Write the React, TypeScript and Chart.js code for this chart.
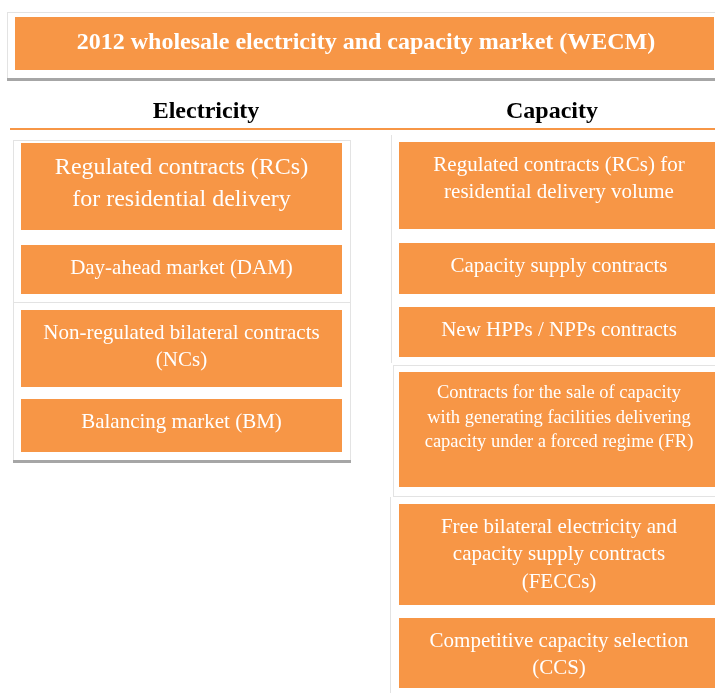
import React, { useEffect, useRef } from "react";
import { Chart, registerables } from "chart.js";

Chart.register(...registerables);

// ---- content ----
const titleText = "2012 wholesale electricity and capacity market (WECM)";
const headers = ["Electricity", "Capacity"];
const electricityItems: string[][] = [
  ["Regulated contracts (RCs)", "for residential delivery"],
  ["Day-ahead market (DAM)"],
  ["Non-regulated bilateral contracts", "(NCs)"],
  ["Balancing market (BM)"],
];
const capacityItems: string[][] = [
  ["Regulated contracts (RCs) for", "residential delivery volume"],
  ["Capacity supply contracts"],
  ["New HPPs / NPPs contracts"],
  [
    "Contracts for the sale of capacity",
    "with generating facilities delivering",
    "capacity under a forced regime (FR)",
  ],
  ["Free bilateral electricity and", "capacity supply contracts", "(FECCs)"],
  ["Competitive capacity selection", "(CCS)"],
];

// ---- layout (diagram units = pixels of the 715x693 page) ----
const W = 715;
const H = 693;
const ORANGE = "#F79646";
const FRAME = "#e3e3e3";
const SHADOW = "#a6a6a6";
const FONT = '"Liberation Serif", "Times New Roman", serif';
const electricitySpans = [
  [143, 230],
  [245, 294],
  [310, 387],
  [399, 452],
];
const electricityFont = [24, 21, 21, 21];
const electricityX = [21, 342];
const capacitySpans = [
  [142, 229],
  [243, 294],
  [307, 357],
  [372, 487],
  [504, 605],
  [618, 688],
];
const capacityFont = [21, 21, 21, 18.5, 21, 21];
const capacityX = [399, 720];

export default function App() {
  const ref = useRef<HTMLCanvasElement | null>(null);

  useEffect(() => {
    document.body.style.margin = "0";
    const canvas = ref.current;
    if (!canvas) return;

    const diagram = {
      id: "diagram",
      beforeDraw(chart: any) {
        const ctx = chart.ctx as CanvasRenderingContext2D;
        const xs = chart.scales.x;
        const ys = chart.scales.y;
        const px = (v: number) => xs.getPixelForValue(v);
        const py = (v: number) => ys.getPixelForValue(v);
        const rect = (x0: number, y0: number, x1: number, y1: number, color: string) => {
          ctx.fillStyle = color;
          ctx.fillRect(px(x0), py(y0), px(x1) - px(x0), py(y1) - py(y0));
        };
        const strokeRect = (x0: number, y0: number, x1: number, y1: number) => {
          ctx.strokeStyle = FRAME;
          ctx.lineWidth = 1;
          ctx.strokeRect(px(x0) + 0.5, py(y0) + 0.5, px(x1) - px(x0), py(y1) - py(y0));
        };
        const vline = (x: number, y0: number, y1: number) => {
          ctx.strokeStyle = FRAME;
          ctx.lineWidth = 1;
          ctx.beginPath();
          ctx.moveTo(px(x) + 0.5, py(y0));
          ctx.lineTo(px(x) + 0.5, py(y1));
          ctx.stroke();
        };

        ctx.save();
        rect(0, 0, W, H, "#ffffff");

        // title frame + box
        strokeRect(7, 12, 716, 79);
        rect(7, 78, 716, 81, SHADOW);
        rect(15, 17, 714, 70, ORANGE);
        ctx.fillStyle = "#ffffff";
        ctx.textAlign = "center";
        ctx.textBaseline = "alphabetic";
        ctx.font = `bold 24px ${FONT}`;
        ctx.fillText(titleText, px(366), py(49));

        // headers
        ctx.fillStyle = "#000000";
        ctx.font = `bold 24px ${FONT}`;
        ctx.fillText(headers[0], px(206), py(118));
        ctx.fillText(headers[1], px(552), py(118));
        rect(10, 128, 715, 130, ORANGE);

        // frames left
        strokeRect(13, 140, 350, 302);
        strokeRect(13, 302, 350, 461);
        rect(13, 460, 351, 463, SHADOW);
        // frames right
        vline(391, 135, 363);
        strokeRect(393, 365, 724, 496);
        vline(390, 497, 693);

        const drawColumn = (
          items: string[][],
          spans: number[][],
          fonts: number[],
          xr: number[],
          cx: number
        ) => {
          items.forEach((lines, i) => {
            const [t, b] = spans[i];
            rect(xr[0], t, xr[1], b, ORANGE);
            const size = fonts[i];
            const lh = size * 1.32;
            ctx.fillStyle = "#ffffff";
            ctx.font = `${size}px ${FONT}`;
            ctx.textAlign = "center";
            ctx.textBaseline = "alphabetic";
            const base = t + 10 + size * 0.89;
            lines.forEach((ln, j) => {
              ctx.fillText(ln, px(cx), py(base + j * lh));
            });
          });
        };
        drawColumn(electricityItems, electricitySpans, electricityFont, electricityX, 181.5);
        drawColumn(capacityItems, capacitySpans, capacityFont, capacityX, 559);
        ctx.restore();
      },
    };

    const chart = new Chart(canvas, {
      type: "scatter",
      data: { datasets: [{ data: [], pointRadius: 0 }] },
      options: {
        animation: false,
        responsive: false,
        events: [],
        layout: { padding: 0 },
        plugins: { legend: { display: false }, tooltip: { enabled: false } },
        scales: {
          x: { type: "linear", min: 0, max: W, display: false },
          y: { type: "linear", min: 0, max: H, reverse: true, display: false },
        },
      },
      plugins: [diagram],
    });
    return () => chart.destroy();
  }, []);

  return (
    <div style={{ position: "absolute", left: 0, top: 0, width: W, height: H }}>
      <canvas ref={ref} width={W} height={H} style={{ display: "block" }} />
    </div>
  );
}
